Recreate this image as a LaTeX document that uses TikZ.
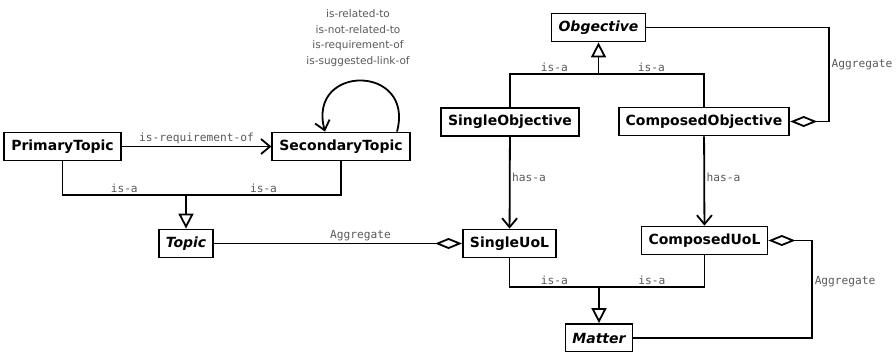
\documentclass[tikz,border=0pt]{standalone}
\usepackage{fontspec}
\setmainfont{DejaVu Sans}
\newfontfamily\monofont{DejaVu Sans Mono}
\usetikzlibrary{arrows.meta}

\begin{document}
\begin{tikzpicture}[x=1pt,y=-1pt,line width=1.8pt]
	\tikzstyle{C}=[rectangle,draw,line width=1.8pt,inner xsep=7pt,minimum height=28pt,font=\fontsize{14}{16}\selectfont\bfseries]
	\tikzstyle{A}=[C,font=\fontsize{14}{16}\selectfont\bfseries\itshape]
	\tikzstyle{lbl}=[font=\fontsize{11.2}{13}\selectfont\monofont,text=black!65,inner sep=1.5pt]
	\tikzstyle{isa}=[-{Triangle[open,length=15pt,width=15pt]}]
	\tikzstyle{hasa}=[-{Straight Barb[length=9pt,width=15pt]}]
	\tikzstyle{aggr}=[{Diamond[open,length=27pt,width=11pt]}-]

	\useasboundingbox (0,0) rectangle (896,351);

	\node [C] (primary) at (62.5,146.5) {PrimaryTopic};
	\node [C] (secondary) at (341,146.5) {SecondaryTopic};
	\node [A] (topic) at (186,243.5) {Topic};
	\node [A] (objective) at (598.5,27.5) {Obgective};
	\node [C] (singleobj) at (510,122) {SingleObjective};
	\node [C] (composedobj) at (704,121.5) {ComposedObjective};
	\node [C] (singleuol) at (509.5,243.5) {SingleUoL};
	\node [C] (composeduol) at (704.5,240.5) {ComposedUoL};
	\node [A] (matter) at (599,338) {Matter};

	\coordinate (topicj) at (186,195);
	\coordinate (objj) at (598.5,74);
	\coordinate (matterj) at (599,287);

	\draw [hasa] (primary) -- (secondary) node [lbl,midway,above] {is-requirement-of};
	\draw [hasa] ([xshift=56pt]secondary.north) to [out=75,in=105,looseness=2.5] ([xshift=-16pt]secondary.north);
	\node [align=center,font=\fontsize{10.5}{15.5}\selectfont,text=black!65] (looplbl) at (358,38) {is-related-to\\is-not-related-to\\is-requirement-of\\is-suggested-link-of};

	\draw (primary) |- (topicj) node [lbl,pos=.75,above] {is-a} -| (secondary) node [lbl,pos=.25,above] {is-a};
	\draw [isa] (topicj) -- (topic);

	\draw (singleobj) |- (objj) node [lbl,pos=.75,above] {is-a} -| (composedobj) node [lbl,pos=.25,above] {is-a};
	\draw [isa] (objj) -- (objective);

	\draw (singleuol) |- (matterj) node [lbl,pos=.75,above] {is-a} -| (composeduol) node [lbl,pos=.25,above] {is-a};
	\draw [isa] (matterj) -- (matter);

	\draw [hasa] (singleobj) -- (singleuol) node [lbl,pos=.44,anchor=west] {has-a};
	\draw [hasa] (composedobj) -- (composeduol) node [lbl,pos=.46,anchor=west] {has-a};

	\draw [aggr] (singleuol) -- (topic) node [lbl,pos=.41,above] {Aggregate};
	\draw [aggr] (composedobj.east) -- ++(39,0) |- (objective) node [lbl,pos=.3,anchor=west] {Aggregate};
	\draw [aggr] (composeduol.east) -- ++(44,0) |- (matter) node [lbl,pos=.21,anchor=west] {Aggregate};
\end{tikzpicture}
\end{document}
